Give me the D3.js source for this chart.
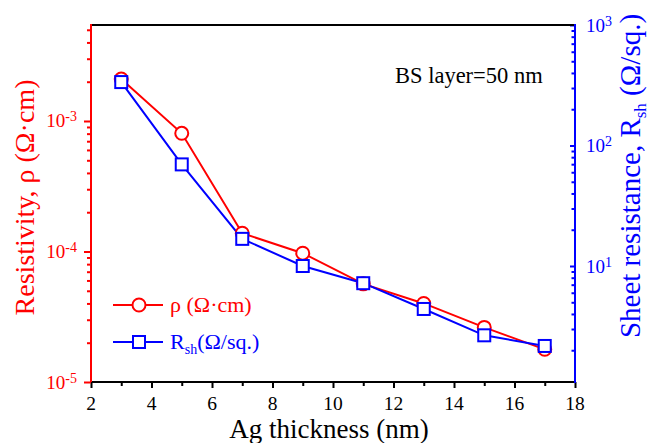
<!DOCTYPE html>
<html>
<head>
<meta charset="utf-8">
<script src="https://cdn.jsdelivr.net/npm/d3@7"></script>
<style>
  body { margin: 0; background: #fff; }
  svg { display: block; }
</style>
</head>
<body>
<div id="chart"></div>
<script>
// data
const thickness = [3, 5, 7, 9, 11, 13, 15, 17];
const resistivity = [2.1e-3, 8.05e-4, 1.38e-4, 9.7e-5, 5.65e-5, 4.0e-5, 2.62e-5, 1.78e-5];
const sheetRes = [336, 69.7, 16.8, 10.0, 7.2, 4.4, 2.66, 2.17];

const xTicks = [2, 4, 6, 8, 10, 12, 14, 16, 18];
const xMinor = [3, 5, 7, 9, 11, 13, 15, 17];
const rhoDecades = [1e-5, 1e-4, 1e-3];
const rshDecades = [1e1, 1e2, 1e3];

const width = 651, height = 443;
const plot = { left: 91, right: 575, top: 25, bottom: 382 };
const serif = "'Liberation Serif', 'Times New Roman', 'DejaVu Serif', serif";

const svg = d3.select("#chart")
  .append("svg")
  .attr("width", width)
  .attr("height", height)
  .attr("font-family", serif)
  .style("font-family", serif);

const x = d3.scaleLinear().domain([2, 18]).range([plot.left, plot.right]);
const yL = d3.scaleLog().domain([1e-5, 5.44e-3]).range([plot.bottom, plot.top]);
const yR = d3.scaleLog().domain([1.09, 1000]).range([plot.bottom, plot.top]);

const isDecade = v => Math.abs(Math.log10(v) - Math.round(Math.log10(v))) < 1e-9;

// series
const rhoData = thickness.map((t, i) => ({ x: t, y: resistivity[i] }));
const rshData = thickness.map((t, i) => ({ x: t, y: sheetRes[i] }));

svg.append("path")
  .datum(rhoData)
  .attr("fill", "none")
  .attr("stroke", "#ff0000")
  .attr("stroke-width", 2)
  .attr("d", d3.line().x(d => x(d.x)).y(d => yL(d.y)));

svg.append("path")
  .datum(rshData)
  .attr("fill", "none")
  .attr("stroke", "#0000ff")
  .attr("stroke-width", 2)
  .attr("d", d3.line().x(d => x(d.x)).y(d => yR(d.y)));

svg.selectAll(".rho")
  .data(rhoData)
  .enter()
  .append("circle")
  .attr("class", "rho")
  .attr("cx", d => x(d.x))
  .attr("cy", d => yL(d.y))
  .attr("r", 6.5)
  .attr("fill", "#fff")
  .attr("stroke", "#ff0000")
  .attr("stroke-width", 2);

svg.selectAll(".rsh")
  .data(rshData)
  .enter()
  .append("rect")
  .attr("class", "rsh")
  .attr("x", d => x(d.x) - 6)
  .attr("y", d => yR(d.y) - 6)
  .attr("width", 12)
  .attr("height", 12)
  .attr("fill", "#fff")
  .attr("stroke", "#0000ff")
  .attr("stroke-width", 2);

// ticks
function styleTicks(g, color) {
  g.select(".domain").remove();
  g.selectAll("line").attr("stroke", color).attr("stroke-width", 2);
}

svg.append("g")
  .attr("transform", `translate(0, ${plot.bottom})`)
  .call(d3.axisBottom(x).tickValues(xTicks).tickSize(6).tickFormat(""))
  .call(g => styleTicks(g, "#000"));

svg.append("g")
  .attr("transform", `translate(0, ${plot.bottom})`)
  .call(d3.axisBottom(x).tickValues(xMinor).tickSize(4).tickFormat(""))
  .call(g => styleTicks(g, "#000"));

svg.append("g")
  .attr("transform", `translate(${plot.left}, 0)`)
  .call(d3.axisLeft(yL).tickValues(rhoDecades).tickSize(7).tickFormat(""))
  .call(g => styleTicks(g, "#ff0000"));

svg.append("g")
  .attr("transform", `translate(${plot.left}, 0)`)
  .call(d3.axisLeft(yL).tickValues(yL.ticks().filter(v => !isDecade(v))).tickSize(4).tickFormat(""))
  .call(g => styleTicks(g, "#ff0000"));

// right axis ticks point inward
svg.append("g")
  .attr("transform", `translate(${plot.right}, 0)`)
  .call(d3.axisLeft(yR).tickValues(rshDecades).tickSize(5).tickFormat(""))
  .call(g => styleTicks(g, "#0000ff"));

svg.append("g")
  .attr("transform", `translate(${plot.right}, 0)`)
  .call(d3.axisLeft(yR).tickValues(yR.ticks().filter(v => !isDecade(v))).tickSize(3.5).tickFormat(""))
  .call(g => styleTicks(g, "#0000ff"));

// frame
svg.append("line")
  .attr("x1", plot.left).attr("x2", plot.right)
  .attr("y1", plot.top).attr("y2", plot.top)
  .attr("stroke", "#000").attr("stroke-width", 2);
svg.append("line")
  .attr("x1", plot.left).attr("x2", plot.right)
  .attr("y1", plot.bottom).attr("y2", plot.bottom)
  .attr("stroke", "#000").attr("stroke-width", 2);
svg.append("line")
  .attr("x1", plot.left).attr("x2", plot.left)
  .attr("y1", plot.top - 1).attr("y2", plot.bottom)
  .attr("stroke", "#ff0000").attr("stroke-width", 2);
svg.append("line")
  .attr("x1", plot.right).attr("x2", plot.right)
  .attr("y1", plot.top - 1).attr("y2", plot.bottom + 1)
  .attr("stroke", "#0000ff").attr("stroke-width", 2);

// tick labels
svg.selectAll(".xlab")
  .data(xTicks)
  .enter()
  .append("text")
  .attr("class", "xlab")
  .attr("x", d => x(d))
  .attr("y", plot.bottom + 28)
  .attr("text-anchor", "middle")
  .style("font-family", serif)
  .style("font-size", "19.5px")
  .attr("fill", "#000")
  .text(d => d);

function powerLabel(px, py, exp, anchor, color) {
  const t = svg.append("text")
    .attr("x", px)
    .attr("y", py + 6.5)
    .attr("text-anchor", anchor)
    .attr("fill", color)
    .style("font-family", serif)
    .style("font-size", "19px");
  t.append("tspan").text("10");
  t.append("tspan").attr("dy", -6).style("font-size", "14px").text(exp);
}

rhoDecades.forEach(v => powerLabel(plot.left - 14, yL(v), String(Math.round(Math.log10(v))), "end", "#ff0000"));
rshDecades.forEach(v => powerLabel(plot.right + 11, yR(v), String(Math.round(Math.log10(v))), "start", "#0000ff"));

// axis titles
svg.append("text")
  .attr("x", 329)
  .attr("y", 437.5)
  .attr("text-anchor", "middle")
  .style("font-family", serif)
  .style("font-size", "27px")
  .attr("fill", "#000")
  .text("Ag thickness (nm)");

svg.append("text")
  .attr("transform", "translate(34, 197.5) rotate(-90)")
  .attr("text-anchor", "middle")
  .style("font-family", serif)
  .style("font-size", "28px")
  .attr("fill", "#ff0000")
  .text("Resistivity, ρ (Ω·cm)");

const rTitle = svg.append("text")
  .attr("transform", "translate(640, 176) rotate(-90)")
  .attr("text-anchor", "middle")
  .style("font-family", serif)
  .style("font-size", "29px")
  .attr("fill", "#0000ff");
rTitle.append("tspan").text("Sheet resistance, R");
rTitle.append("tspan").attr("dy", 6).style("font-size", "17px").text("sh");
rTitle.append("tspan").attr("dy", -6).text(" (Ω/sq.)");

// annotation
svg.append("text")
  .attr("x", 395)
  .attr("y", 83)
  .style("font-family", serif)
  .style("font-size", "22.5px")
  .attr("fill", "#000")
  .text("BS layer=50 nm");

// legend
const legend = [
  { color: "#ff0000", marker: "circle", y: 305, label: "ρ (Ω·cm)" },
  { color: "#0000ff", marker: "square", y: 342, label: "R", sub: "sh", rest: "(Ω/sq.)" }
];

legend.forEach(d => {
  svg.append("line")
    .attr("x1", 113).attr("x2", 163)
    .attr("y1", d.y).attr("y2", d.y)
    .attr("stroke", d.color).attr("stroke-width", 2);
  if (d.marker === "circle") {
    svg.append("circle")
      .attr("cx", 139).attr("cy", d.y).attr("r", 6.5)
      .attr("fill", "#fff").attr("stroke", d.color).attr("stroke-width", 2);
  } else {
    svg.append("rect")
      .attr("x", 133).attr("y", d.y - 6).attr("width", 12).attr("height", 12)
      .attr("fill", "#fff").attr("stroke", d.color).attr("stroke-width", 2);
  }
  const t = svg.append("text")
    .attr("x", 170)
    .attr("y", d.y + 7)
    .style("font-family", serif)
    .style("font-size", "22px")
    .attr("fill", d.color);
  t.append("tspan").text(d.label);
  if (d.sub) {
    t.append("tspan").attr("dy", 5).style("font-size", "14px").text(d.sub);
    t.append("tspan").attr("dy", -5).text(d.rest);
  }
});
</script>
</body>
</html>
